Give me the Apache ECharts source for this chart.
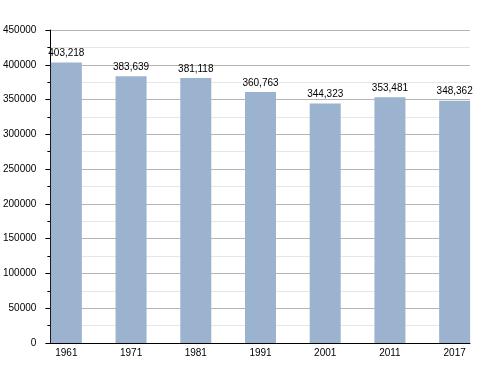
<!DOCTYPE html>
<html><head><meta charset="utf-8">
<script src="https://cdn.jsdelivr.net/npm/echarts@6/dist/echarts.min.js"></script>
<style>html,body{margin:0;padding:0;background:#fff}#c{width:500px;height:373px}</style>
</head><body><div id="c"></div>
<script>
const categories = ['1961','1971','1981','1991','2001','2011','2017'];
const population = [403218, 383639, 381118, 360763, 344323, 353481, 348362];
const yTicks = [0, 50000, 100000, 150000, 200000, 250000, 300000, 350000, 400000, 450000];

const chart = echarts.init(document.getElementById('c'), null, {renderer:'canvas'});
const fontFamily = 'Liberation Sans, Arial, sans-serif';
chart.setOption({
  animation: false,
  grid: [
    {left: 50, right: 30, top: 30, bottom: 30},
    {left: 34, right: 13, top: 30, bottom: 30}
  ],
  xAxis: [
    {type: 'category', gridIndex: 0, data: categories,
     axisLine: {show: true, lineStyle: {color: '#000', width: 1}},
     axisTick: {show: false}, axisLabel: {show: false}, splitLine: {show: false}},
    {type: 'category', gridIndex: 1, data: categories,
     axisLine: {show: false}, axisTick: {show: false},
     axisLabel: {show: true, color: '#000', fontSize: 10, fontFamily: fontFamily, margin: 5}}
  ],
  yAxis: [
    {type: 'value', gridIndex: 0, min: yTicks[0], max: yTicks[yTicks.length-1], interval: 50000,
     axisLine: {show: true, lineStyle: {color: '#000', width: 1}},
     axisTick: {show: true, length: 5, lineStyle: {color: '#000'}},
     minorTick: {show: true, splitNumber: 2, length: 3, lineStyle: {color: '#000'}},
     axisLabel: {color: '#000', fontSize: 10, fontFamily: fontFamily, margin: 14,
       formatter: v => String(v)},
     splitLine: {show: true, lineStyle: {color: '#b4b4b4', width: 1}},
     minorSplitLine: {show: true, lineStyle: {color: '#e6e6e6', width: 1}}},
    {type: 'value', gridIndex: 1, min: yTicks[0], max: yTicks[yTicks.length-1], interval: 50000,
     show: false, splitLine: {show: false}}
  ],
  series: [{
    type: 'bar', xAxisIndex: 1, yAxisIndex: 1, data: population, barWidth: 31,
    itemStyle: {color: '#9bb3cf'},
    label: {show: true, position: 'top', distance: 4, color: '#000', fontSize: 10, fontFamily: fontFamily,
      formatter: p => p.value.toLocaleString('en-US')}
  }]
});
</script></body></html>
